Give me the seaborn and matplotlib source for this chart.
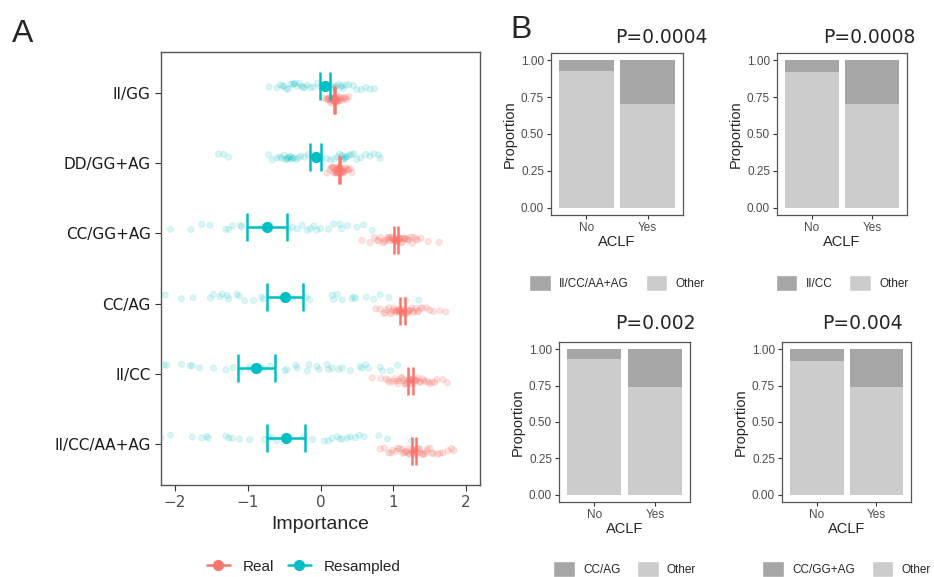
import matplotlib
matplotlib.use('Agg')
import matplotlib.pyplot as plt
from matplotlib.lines import Line2D
from matplotlib.patches import Patch
import numpy as np
import pandas as pd
import seaborn as sns

sns.set_style('ticks')
plt.rcParams['font.family'] = ['DejaVu Sans']

# ---- panel A data: importance of each genotype (real vs resampled) ----
genotypes = ['II/GG', 'DD/GG+AG', 'CC/GG+AG', 'CC/AG', 'II/CC', 'II/CC/AA+AG']

resampled_ii_gg = [-0.71, -0.60, -0.55, -0.50, -0.47, -0.44, -0.41, -0.38, -0.35, -0.32,
                   -0.29, -0.26, -0.22, -0.18, -0.14, -0.10, -0.05, 0.0, 0.05, 0.10,
                   0.14, 0.18, 0.22, 0.25, 0.28, 0.31, 0.35, 0.39, 0.45, 0.50,
                   0.56, 0.62, 0.68, 0.74, -0.52, -0.36, -0.24, 0.20, 0.30]
resampled_dd_gg_ag = [-1.40, -1.33, -1.26, -0.71, -0.66, -0.60, -0.56, -0.53, -0.50, -0.48,
                      -0.46, -0.44, -0.42, -0.40, -0.38, -0.36, -0.33, -0.30, -0.27, -0.22,
                      -0.17, -0.10, 0.02, 0.09, 0.14, 0.19, 0.23, 0.26, 0.29, 0.31,
                      0.33, 0.35, 0.37, 0.40, 0.43, 0.46, 0.50, 0.55, 0.62, 0.68,
                      0.73, 0.80, 0.82, -0.45, -0.41, 0.30, 0.34]
resampled_cc_gg_ag = [-2.06, -1.78, -1.63, -1.52, -1.30, -1.26, -1.21, -1.10, -1.08, -0.82,
                      -0.69, -0.44, -0.39, -0.32, -0.25, -0.18, -0.14, -0.09, -0.05, 0.0,
                      0.11, 0.18, 0.27, 0.29, 0.37, 0.50, 0.59, 0.71]
resampled_cc_ag = [-2.13, -1.91, -1.75, -1.51, -1.47, -1.38, -1.35, -1.28, -1.26, -1.15,
                   -1.12, -1.04, -0.92, -0.81, -0.78, -0.38, -0.20, -0.15, 0.16, 0.18,
                   0.23, 0.30, 0.43, 0.46, 0.48, 0.63, 0.73, 0.82, 0.94, 1.17, 1.35]
resampled_ii_cc = [-2.15, -2.11, -1.91, -1.79, -1.76, -1.66, -1.47, -1.30, -1.20, -1.10,
                   -0.98, -0.96, -0.82, -0.78, -0.69, -0.49, -0.46, -0.34, -0.32, -0.18,
                   -0.16, -0.05, -0.02, 0.09, 0.11, 0.16, 0.25, 0.30, 0.41, 0.54,
                   0.57, 0.62, 0.66, 0.82, 0.85, 0.96, 1.06]
resampled_ii_cc_aa_ag = [-2.19, -2.06, -1.76, -1.63, -1.56, -1.54, -1.30, -1.26, -1.21, -1.11,
                         -0.97, -0.77, -0.71, -0.66, -0.60, -0.23, -0.11, 0.05, 0.11, 0.16,
                         0.23, 0.27, 0.30, 0.37, 0.41, 0.48, 0.53, 0.60, 0.80, 0.92, 1.25]

real_ii_gg = [0.04, 0.08, 0.10, 0.12, 0.13, 0.14, 0.15, 0.16, 0.17, 0.17,
              0.18, 0.18, 0.19, 0.19, 0.20, 0.20, 0.21, 0.21, 0.22, 0.23,
              0.24, 0.25, 0.26, 0.28, 0.30, 0.33, 0.36, 0.39, 0.11, 0.14,
              0.16, 0.18, 0.19, 0.20, 0.21, 0.22, 0.24, 0.27, 0.31, 0.35]
real_dd_gg_ag = [0.09, 0.13, 0.15, 0.17, 0.19, 0.20, 0.21, 0.22, 0.23, 0.23,
                 0.24, 0.24, 0.25, 0.25, 0.26, 0.26, 0.27, 0.27, 0.28, 0.29,
                 0.30, 0.31, 0.32, 0.34, 0.36, 0.39, 0.43, 0.16, 0.18, 0.21,
                 0.23, 0.25, 0.26, 0.28, 0.29, 0.31, 0.33, 0.37, 0.41]
real_cc_gg_ag = [0.57, 0.68, 0.74, 0.78, 0.82, 0.86, 0.89, 0.92, 0.94, 0.96,
                 0.98, 1.00, 1.01, 1.02, 1.03, 1.04, 1.05, 1.06, 1.08, 1.09,
                 1.11, 1.13, 1.15, 1.18, 1.21, 1.24, 1.28, 1.33, 1.38, 1.48,
                 1.63, 0.80, 0.88, 0.93, 0.97, 1.00, 1.03, 1.05, 1.07, 1.10,
                 1.12, 1.16, 1.20, 1.26, 1.31]
real_cc_ag = [0.76, 0.82, 0.87, 0.91, 0.94, 0.97, 1.00, 1.02, 1.04, 1.06,
              1.08, 1.09, 1.10, 1.11, 1.12, 1.13, 1.14, 1.16, 1.18, 1.20,
              1.22, 1.25, 1.28, 1.31, 1.35, 1.40, 1.46, 1.55, 1.64, 1.72,
              0.89, 0.96, 1.01, 1.05, 1.08, 1.11, 1.13, 1.15, 1.19, 1.23,
              1.27, 1.33, 1.38, 1.50]
real_ii_cc = [0.71, 0.83, 0.90, 0.95, 1.00, 1.04, 1.08, 1.11, 1.14, 1.16,
              1.18, 1.20, 1.22, 1.23, 1.24, 1.25, 1.26, 1.28, 1.30, 1.32,
              1.34, 1.37, 1.40, 1.44, 1.48, 1.53, 1.60, 1.68, 1.74, 0.93,
              1.02, 1.07, 1.12, 1.17, 1.21, 1.24, 1.27, 1.31, 1.36, 1.42,
              1.50, 1.57]
real_ii_cc_aa_ag = [0.82, 0.88, 0.94, 0.99, 1.04, 1.08, 1.12, 1.15, 1.18, 1.21,
                    1.23, 1.25, 1.27, 1.28, 1.29, 1.30, 1.31, 1.33, 1.35, 1.37,
                    1.40, 1.43, 1.46, 1.50, 1.55, 1.61, 1.68, 1.75, 1.83, 0.97,
                    1.06, 1.13, 1.17, 1.22, 1.26, 1.29, 1.32, 1.36, 1.41, 1.47,
                    1.53, 1.64, 1.80]

resampled_mean = [0.06, -0.065, -0.74, -0.49, -0.88, -0.475]
resampled_ci = [0.07, 0.075, 0.275, 0.25, 0.25, 0.265]
real_mean = [0.19, 0.26, 1.04, 1.125, 1.235, 1.285]
real_ci = [0.008, 0.008, 0.03, 0.03, 0.03, 0.03]

# ---- panel B data: genotype proportion by ACLF status ----
b_genotypes = ['II/CC/AA+AG', 'II/CC', 'CC/AG', 'CC/GG+AG']
b_pvalues = ['P=0.0004', 'P=0.0008', 'P=0.002', 'P=0.004']
aclf = ['No', 'Yes']
other_no = [0.93, 0.92, 0.93, 0.92]
other_yes = [0.705, 0.705, 0.74, 0.74]

RED = '#F8766D'
TEAL = '#00BFC4'
DARK = '#A6A6A6'
LIGHT = '#CCCCCC'
OFF_RES, OFF_REAL = -0.09, 0.10

resampled = [resampled_ii_gg, resampled_dd_gg_ag, resampled_cc_gg_ag,
             resampled_cc_ag, resampled_ii_cc, resampled_ii_cc_aa_ag]
real = [real_ii_gg, real_dd_gg_ag, real_cc_gg_ag, real_cc_ag, real_ii_cc, real_ii_cc_aa_ag]

rows = []
for i, g in enumerate(genotypes):
    for v in resampled[i]:
        rows.append({'Importance': v, 'pos': i + OFF_RES, 'group': 'Resampled'})
    for v in real[i]:
        rows.append({'Importance': v, 'pos': i + OFF_REAL, 'group': 'Real'})
df = pd.DataFrame(rows)

fig = plt.figure(figsize=(9.34, 5.77), dpi=100)

# ---- Panel A ----
axA = fig.add_axes([0.1724, 0.1594, 0.3415, 0.7504])
np.random.seed(3)
sns.stripplot(data=df, x='Importance', y='pos', hue='group', orient='h',
              native_scale=True, jitter=0.25, palette={'Real': RED, 'Resampled': TEAL},
              hue_order=['Resampled', 'Real'], size=4.5,
              linewidth=0.6, legend=False, ax=axA)
# faint points with slightly stronger rim, like ggplot alpha circles
for c in axA.collections:
    fc = np.array(c.get_facecolor())
    if len(fc) == 0:
        continue
    a = 0.2 if fc[0, 0] > 0.5 else 0.14
    fc[:, 3] = a
    c.set_facecolor(fc)
    c.set_edgecolor(fc)

ypos = np.arange(len(genotypes))
axA.errorbar(resampled_mean, ypos + OFF_RES, xerr=resampled_ci, fmt='o', color=TEAL,
             ms=7, elinewidth=1.8, capsize=10, capthick=1.8, zorder=5)
axA.errorbar(real_mean, ypos + OFF_REAL, xerr=real_ci, fmt='none', color=RED,
             elinewidth=1.8, capsize=10, capthick=1.8, zorder=5)

axA.set_xlim(-2.19, 2.19)
axA.set_ylim(5.58, -0.58)
axA.set_xticks([-2, -1, 0, 1, 2])
axA.set_yticks(ypos)
axA.set_yticklabels(genotypes, fontsize=11, color='#1a1a1a')
axA.set_ylabel('')
axA.set_xlabel('Importance', fontsize=14, family='Liberation Sans', labelpad=4)
axA.tick_params(axis='x', labelsize=11, labelcolor='#4d4d4d', length=4, color='#333333')
axA.tick_params(axis='y', length=4, color='#333333')
for s in axA.spines.values():
    s.set_color('#555555')
    s.set_linewidth(1.0)

handles = [Line2D([0], [0], color=RED, marker='o', lw=1.8, ms=7, label='Real'),
           Line2D([0], [0], color=TEAL, marker='o', lw=1.8, ms=7, label='Resampled')]
fig.legend(handles=handles, loc='center', bbox_to_anchor=(0.325, 0.018), ncol=2,
           frameon=False, prop={'family': 'Liberation Sans', 'size': 11},
           handlelength=1.5, handletextpad=0.85, columnspacing=0.9)

fig.text(0.013, 0.927, 'A', fontsize=23, family='Liberation Sans', va='baseline')
fig.text(0.546, 0.934, 'B', fontsize=23, family='Liberation Sans', va='baseline')

# ---- Panel B ----
b_rects = [[0.590, 0.6274, 0.1413, 0.2808],
           [0.8319, 0.6274, 0.1392, 0.2808],
           [0.5985, 0.1300, 0.1403, 0.2773],
           [0.8373, 0.1300, 0.1381, 0.2773]]
title_xy = [(0.758, 0.925), (0.980, 0.925), (0.745, 0.430), (0.967, 0.430)]

for i, rect in enumerate(b_rects):
    ax = fig.add_axes(rect)
    sns.barplot(x=aclf, y=[1.0, 1.0], color=DARK, saturation=1, width=0.9,
                linewidth=0, ax=ax)
    sns.barplot(x=aclf, y=[other_no[i], other_yes[i]], color=LIGHT, saturation=1,
                width=0.9, linewidth=0, ax=ax)
    ax.set_xlim(-0.58, 1.58)
    ax.set_ylim(-0.05, 1.05)
    ax.set_yticks([0, 0.25, 0.5, 0.75, 1.0])
    ax.set_yticklabels(['0.00', '0.25', '0.50', '0.75', '1.00'])
    ax.tick_params(labelsize=8.5, labelcolor='#4d4d4d', length=3, color='#333333', pad=2)
    for lab in ax.get_xticklabels() + ax.get_yticklabels():
        lab.set_family('Liberation Sans')
    ax.set_xlabel('ACLF', fontsize=10.5, family='Liberation Sans', labelpad=1)
    ax.set_ylabel('Proportion', fontsize=10.5, family='Liberation Sans', labelpad=3)
    for s in ax.spines.values():
        s.set_color('#555555')
        s.set_linewidth(0.9)
    leg_handles = [Patch(facecolor=DARK, label=b_genotypes[i]),
                   Patch(facecolor=LIGHT, label='Other')]
    ax.legend(handles=leg_handles, loc='center', bbox_to_anchor=(0.5, -0.42), ncol=2,
              frameon=False, prop={'family': 'Liberation Sans', 'size': 8.5},
              handlelength=1.85, handleheight=1.7, handletextpad=0.7, columnspacing=1.4)
    fig.text(title_xy[i][0], title_xy[i][1], b_pvalues[i], fontsize=13.5,
             ha='right', va='baseline')

fig.savefig('out.png', dpi=100)
